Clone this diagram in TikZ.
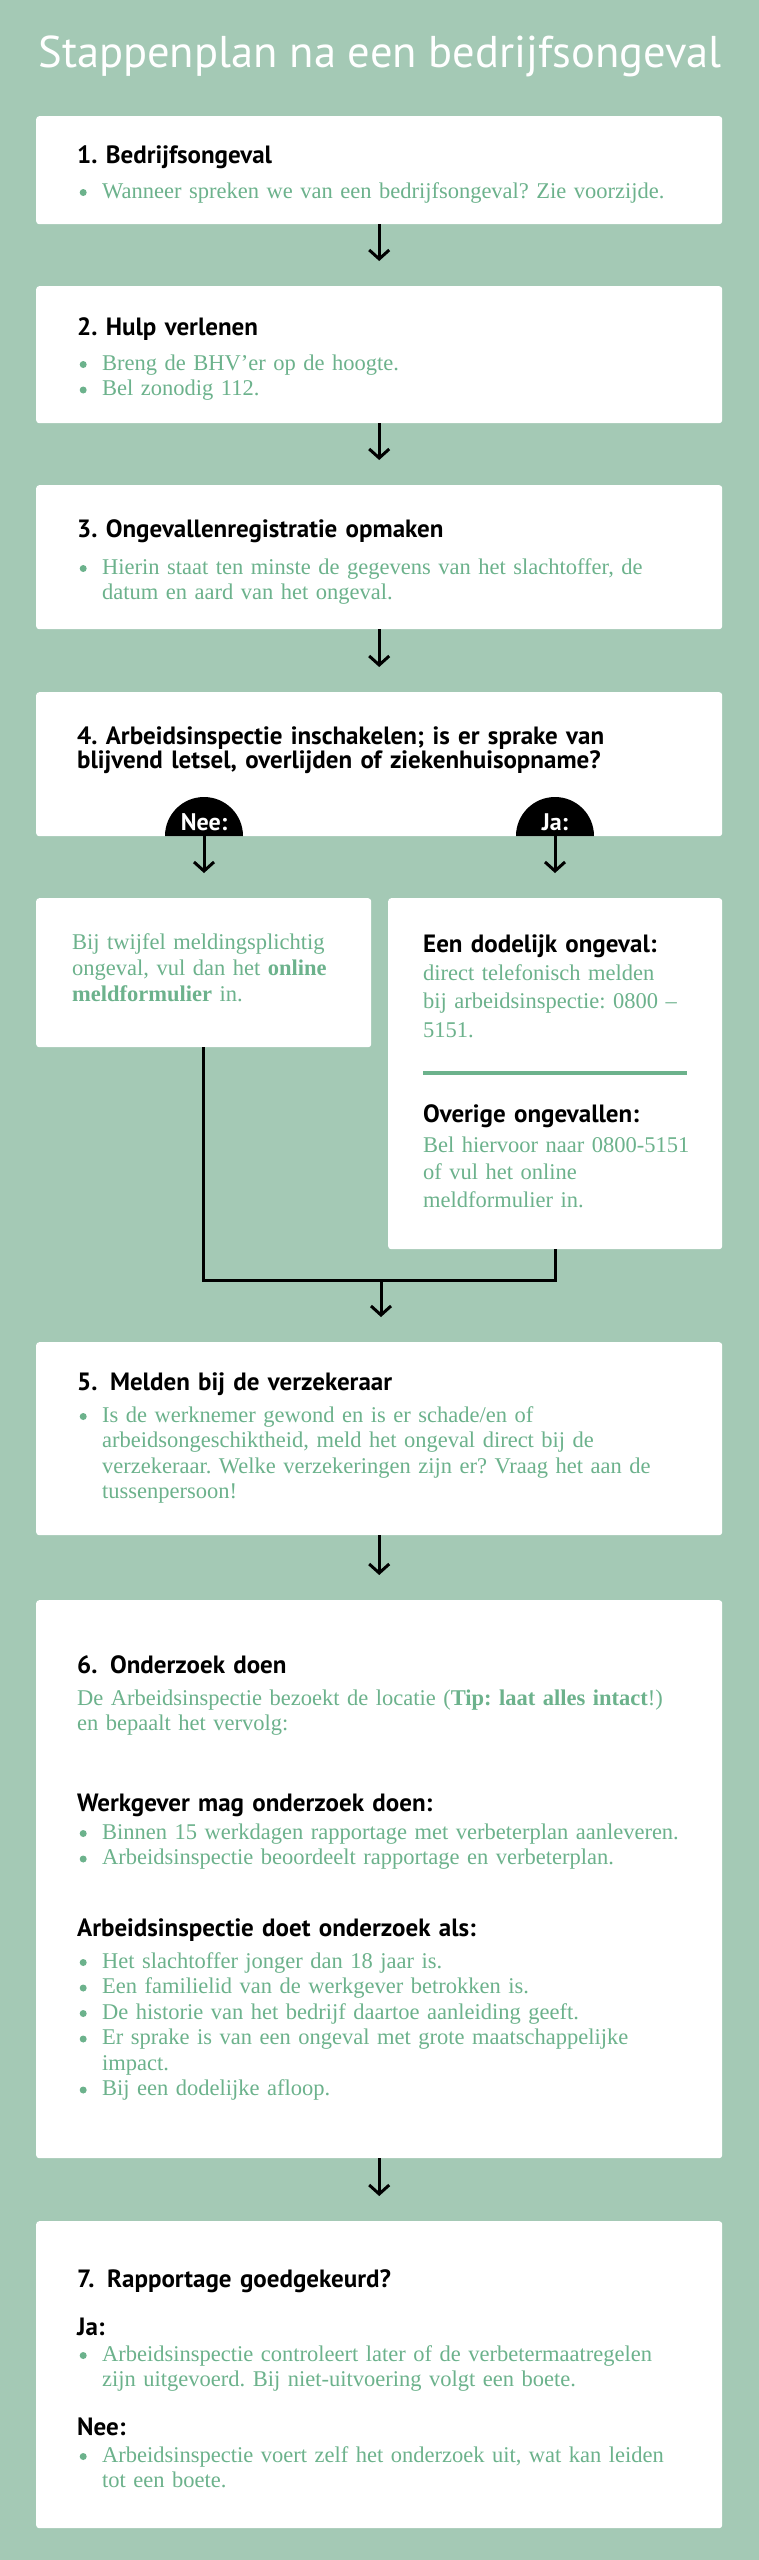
\documentclass[tikz,border=0pt]{standalone}
\usepackage{fontspec}
\usepackage{tikz}
\usetikzlibrary{arrows.meta}
\newfontfamily\headfont{PT Sans}
\newfontfamily\bodyfont{Liberation Serif}
\definecolor{bgreen}{RGB}{164,201,181}
\definecolor{tgreen}{RGB}{108,178,140}
\frenchspacing
\newcommand{\bltdot}{\tikz[baseline={(0pt,-5.5pt)}]\fill[tgreen] (0pt,0pt) circle[radius=3.5pt];}
\newcommand{\fitm}{\noindent\makebox[25pt][l]{\hspace{2.5pt}\bltdot}}
\newcommand{\itm}{\par\fitm}
\newcommand{\nxt}{\newline\hspace*{25pt}}
\tikzstyle{card} = [draw=none, fill=white, rounded corners=3pt, anchor=north west, inner sep=0pt, minimum width=686pt]
\tikzstyle{head} = [anchor=base west, inner sep=0pt, text width=640pt, align=left, font=\headfont\bfseries\fontsize{25}{24.5}\selectfont]
\tikzstyle{body} = [anchor=base west, inner sep=0pt, text width=640pt, text=tgreen, font=\bodyfont\fontsize{22.5}{25.5}\selectfont\raggedright]
\tikzstyle{yn} = [anchor=base, inner sep=0pt, text=white, font=\headfont\bfseries\fontsize{24}{25}\selectfont]
\tikzstyle{flow} = [style={-{Straight Barb[length=9pt,width=20pt]},line width=3pt,shorten >=25pt}]
\tikzstyle{merge} = [style={line width=3pt,line join=miter}]

\begin{document}
\begin{tikzpicture}[x=1pt,y=1pt]
        \fill[bgreen] (0,0) rectangle (759,-2560);
        \useasboundingbox (0,0) rectangle (759,-2560);
        \node[anchor=base, inner sep=0pt, text=white, font=\headfont\fontsize{44.5}{48}\selectfont] (title) at (380,-67) {Stappenplan na een bedrijfsongeval};

        % boxes
        \node[card, minimum height=108pt] (b1) at (36,-116) {};
        \node[card, minimum height=137pt] (b2) at (36,-286) {};
        \node[card, minimum height=144pt] (b3) at (36,-485) {};
        \node[card, minimum height=144pt] (b4) at (36,-692) {};
        \node[card, minimum width=335pt, minimum height=149pt] (lbox) at (36,-898) {};
        \node[card, minimum width=334pt, minimum height=351pt] (rbox) at (388,-898) {};
        \node[card, minimum height=193pt] (b5) at (36,-1342) {};
        \node[card, minimum height=558pt] (b6) at (36,-1600) {};
        \node[card, minimum height=307pt] (b7) at (36,-2221) {};

        % step 1-4
        \node[head] (h1) at (77,-163) {1. Bedrijfsongeval};
        \node[body] (t1) at (77,-198) {\fitm Wanneer spreken we van een bedrijfsongeval? Zie voorzijde.};
        \node[head] (h2) at (77,-335) {2. Hulp verlenen};
        \node[body] (t2) at (77,-370) {\fitm Breng de BHV’er op de hoogte.\itm Bel zonodig 112.};
        \node[head] (h3) at (77,-537) {3. Ongevallenregistratie opmaken};
        \node[body] (t3) at (77,-574) {\fitm Hierin staat ten minste de gegevens van het slachtoffer, de\nxt datum en aard van het ongeval.};
        \node[head] (h4) at (77,-744) {4. Arbeidsinspectie inschakelen; is er sprake van\\ blijvend letsel, overlijden of ziekenhuisopname?};

        % nee / ja
        \coordinate (neeb) at (204,-836);
        \coordinate (jab) at (555,-836);
        \fill (neeb) ++(-39,0) arc[start angle=180, end angle=0, radius=39pt] -- cycle;
        \fill (jab) ++(-39,0) arc[start angle=180, end angle=0, radius=39pt] -- cycle;
        \node[yn] (nee) at (204,-830) {Nee:};
        \node[yn] (ja) at (555,-830) {Ja:};

        \node[body, text width=295pt, font=\bodyfont\fontsize{22.5}{26}\selectfont\raggedright] (tl) at (72,-949) {Bij twijfel meldingsplichtig\\ ongeval, vul dan het \textbf{online}\\ \textbf{meldformulier} in.};
        \node[head, text width=295pt] (hr1) at (423,-952) {Een dodelijk ongeval:};
        \node[body, text width=295pt, font=\bodyfont\fontsize{22.5}{28.5}\selectfont\raggedright] (tr1) at (423,-980) {direct telefonisch melden\\ bij arbeidsinspectie: 0800 –\\ 5151.};
        \draw[tgreen, line width=4pt] (423,-1073) -- (687,-1073);
        \node[head, text width=295pt] (hr2) at (423,-1122) {Overige ongevallen:};
        \node[body, text width=295pt, font=\bodyfont\fontsize{22.5}{27.5}\selectfont\raggedright] (tr2) at (423,-1152) {Bel hiervoor naar 0800-5151\\ of vul het online\\ meldformulier in.};

        % step 5-7
        \node[head] (h5) at (77,-1390) {5.\enspace Melden bij de verzekeraar};
        \node[body] (t5) at (77,-1422) {\fitm Is de werknemer gewond en is er schade/en of\nxt arbeidsongeschiktheid, meld het ongeval direct bij de\nxt verzekeraar. Welke verzekeringen zijn er? Vraag het aan de\nxt tussenpersoon!};
        \node[head] (h6) at (77,-1673) {6.\enspace Onderzoek doen};
        \node[body, font=\bodyfont\fontsize{22.5}{25}\selectfont\raggedright] (t6) at (77,-1705) {De Arbeidsinspectie bezoekt de locatie (\textbf{Tip: laat alles intact}!)\\ en bepaalt het vervolg:};
        \node[head] (h6a) at (77,-1811) {Werkgever mag onderzoek doen:};
        \node[body] (t6a) at (77,-1839) {\fitm Binnen 15 werkdagen rapportage met verbeterplan aanleveren.\itm Arbeidsinspectie beoordeelt rapportage en verbeterplan.};
        \node[head] (h6b) at (77,-1936) {Arbeidsinspectie doet onderzoek als:};
        \node[body] (t6b) at (77,-1968) {\fitm Het slachtoffer jonger dan 18 jaar is.\itm Een familielid van de werkgever betrokken is.\itm De historie van het bedrijf daartoe aanleiding geeft.\itm Er sprake is van een ongeval met grote maatschappelijke\nxt impact.\itm Bij een dodelijke afloop.};
        \node[head] (h7) at (77,-2287) {7.\enspace Rapportage goedgekeurd?};
        \node[head] (h7a) at (77,-2335) {Ja:};
        \node[body] (t7a) at (77,-2361) {\fitm Arbeidsinspectie controleert later of de verbetermaatregelen\nxt zijn uitgevoerd. Bij niet-uitvoering volgt een boete.};
        \node[head] (h7b) at (77,-2435) {Nee:};
        \node[body] (t7b) at (77,-2462) {\fitm Arbeidsinspectie voert zelf het onderzoek uit, wat kan leiden\nxt tot een boete.};

        % arrows
        \draw[flow] (b1) edge (b2);
        \draw[flow] (b2) edge (b3);
        \draw[flow] (b3) edge (b4);
        \draw[flow] (neeb) -- (neeb |- lbox.north);
        \draw[flow] (jab) -- (jab |- rbox.north);
        \coordinate (jn) at (381,-1280);
        \draw[merge] (lbox.south) |- (jn) -| (rbox.south);
        \draw[flow] (jn) -- (jn |- b5.north);
        \draw[flow] (b5) edge (b6);
        \draw[flow] (b6) edge (b7);
      \end{tikzpicture}
\end{document}
